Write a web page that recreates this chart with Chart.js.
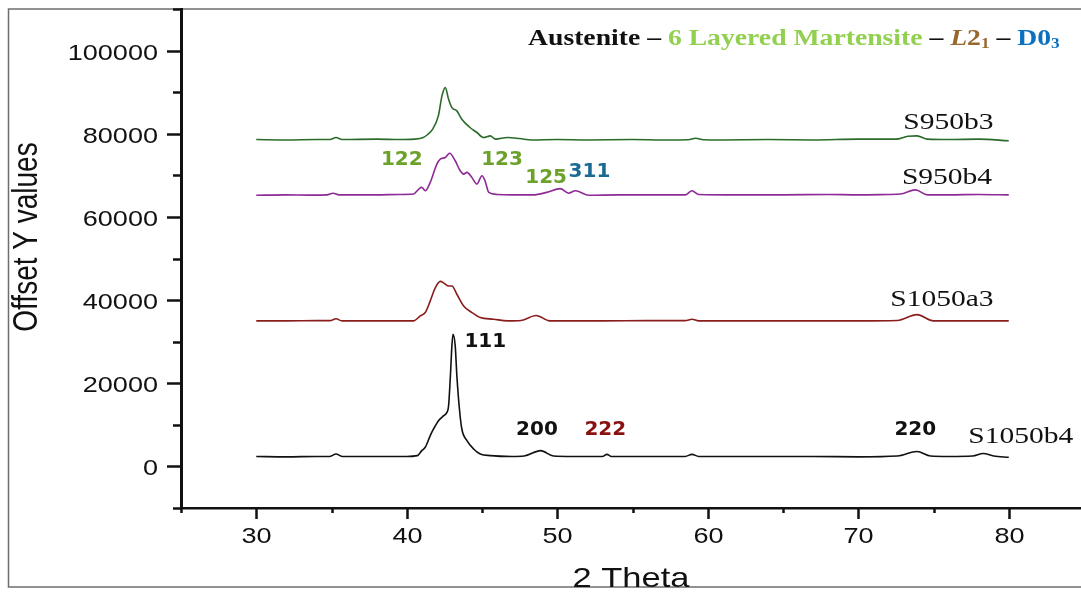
<!DOCTYPE html>
<html>
<head>
<meta charset="utf-8">
<title>XRD offset patterns</title>
<script src="https://cdn.jsdelivr.net/npm/chart.js@4/dist/chart.umd.min.js"></script>
<style>
  html, body { margin: 0; padding: 0; background: #fff; }
  #wrap { width: 1081px; height: 592px; position: relative; }
  canvas { display: block; }
</style>
</head>
<body>
<div id="wrap"><canvas id="xrd" width="1081" height="592"></canvas></div>
<script>
// 2-theta positions and offset intensities for each sample
const theta950b3 = [30, 32, 34, 34.9, 35.3, 35.7, 38, 39.5, 40.5, 41.1, 41.35, 41.7, 42.1, 42.34, 42.56, 42.78, 43.0, 43.33, 43.66, 44.2, 44.66, 45.1, 45.55, 45.9, 46.7, 47.5, 48.3, 50, 52, 55, 57, 58.7, 59.2, 59.7, 61, 64, 67, 70, 72.5, 73.3, 73.9, 74.6, 76, 78, 80];
const counts950b3 = [78600, 78500, 78600, 78600, 79100, 78600, 78700, 78600, 78700, 79100, 79700, 81000, 84300, 89100, 91100, 88300, 86300, 85500, 83500, 81500, 80300, 79100, 79500, 78700, 79100, 78850, 78500, 78600, 78500, 78600, 78500, 78550, 78900, 78550, 78500, 78600, 78500, 78700, 78700, 79400, 79500, 78700, 78600, 78700, 78300];

const theta950b4 = [30, 32, 33.5, 34.7, 35.1, 35.5, 38, 39.5, 40.45, 40.8, 41.0, 41.23, 41.56, 42.0, 42.23, 42.56, 42.85, 43.22, 43.55, 43.78, 44.0, 44.33, 44.66, 45.0, 45.2, 45.45, 46.0, 47, 48.4, 49.3, 50.2, 50.75, 51.2, 52.1, 54, 56, 58.5, 58.95, 59.4, 62, 65, 68, 70, 72, 72.8, 73.8, 74.6, 76, 78, 80];
const counts950b4 = [65200, 65300, 65250, 65300, 65700, 65300, 65300, 65400, 65500, 66700, 67100, 66300, 68300, 72700, 73900, 74300, 75300, 73500, 71100, 70300, 70700, 69500, 67900, 69900, 68700, 65900, 65400, 65300, 65300, 65900, 66800, 65700, 66300, 65200, 65300, 65300, 65300, 66300, 65400, 65300, 65300, 65400, 65300, 65400, 65500, 66500, 65300, 65300, 65400, 65300];

const theta1050a3 = [30, 32, 34, 34.9, 35.3, 35.7, 38, 40.45, 40.9, 41.23, 41.56, 41.9, 42.23, 42.5, 42.78, 43.0, 43.33, 43.78, 44.33, 44.88, 45.77, 46.7, 47.6, 48.6, 49.5, 51, 53, 56, 58.5, 58.95, 59.4, 61, 64, 67, 70, 72.6, 73.9, 75.0, 77, 80];
const counts1050a3 = [35000, 35000, 35050, 35050, 35500, 35000, 35000, 35000, 36200, 37000, 39800, 43000, 44500, 44000, 43400, 43400, 41400, 38600, 37000, 35800, 35400, 35000, 35100, 36300, 35000, 35000, 35000, 35050, 35050, 35400, 35000, 35000, 35000, 35000, 35000, 35100, 36500, 35000, 35000, 35000];

const theta1050b4 = [30, 32, 34, 34.9, 35.3, 35.7, 38, 40, 40.7, 41.0, 41.23, 41.56, 41.78, 42.11, 42.45, 42.67, 42.78, 42.9, 43.0, 43.07, 43.22, 43.33, 43.5, 43.66, 44.0, 44.44, 44.88, 45.55, 47, 47.8, 48.9, 49.75, 51, 53.0, 53.3, 53.6, 55, 57, 58.5, 58.95, 59.4, 61, 64, 67, 70, 72.6, 73.9, 74.8, 76, 77.6, 78.3, 79, 80];
const counts1050b4 = [2400, 2300, 2400, 2400, 3000, 2400, 2400, 2400, 2600, 3800, 4600, 7400, 9000, 11000, 12200, 13000, 14600, 21800, 29000, 31800, 29000, 21800, 13800, 9000, 6200, 4200, 3000, 2600, 2400, 2500, 3800, 2500, 2400, 2400, 2900, 2400, 2400, 2400, 2400, 2900, 2400, 2400, 2400, 2400, 2300, 2500, 3600, 2500, 2400, 2500, 3100, 2500, 2200];

// sample names and where they are written (left edge, baseline)
const sampleNames = ['S950b3', 'S950b4', 'S1050a3', 'S1050b4'];
const sampleLabelTheta = [72.99, 72.9, 72.13, 77.31];
const sampleLabelY = [81260, 67910, 38570, 5700];

// reflection indices (centre, baseline)
const peakNames = ['122', '123', '125', '311', '111', '200', '222', '220'];
const peakTheta = [39.67, 46.33, 49.26, 52.14, 45.22, 48.65, 53.19, 73.79];
const peakY = [72480, 72480, 68080, 69525, 28780, 7550, 7550, 7550];
const peakColors = ['#6ca22a', '#6ca22a', '#6ca22a', '#1b6a94', '#111111', '#111111', '#8b1010', '#111111'];

const lineColors = ['#2a6b2a', '#8e2a96', '#8a1c1c', '#111111'];
const STRETCH = 1.23;

const pts = (xs, ys) => xs.map((x, i) => ({ x: x, y: ys[i] }));

const text = (ctx, str, x, y, font, color, align) => {
    ctx.save();
    ctx.font = font;
    ctx.fillStyle = color;
    ctx.textAlign = align || 'left';
    ctx.textBaseline = 'alphabetic';
    ctx.translate(x, y);
    ctx.scale(STRETCH, 1);
    ctx.fillText(str, 0, 0);
    ctx.restore();
};

// draws a run of differently styled pieces one after another
const textRuns = (ctx, runs, x, y) => {
    ctx.save();
    ctx.translate(x, y);
    ctx.scale(STRETCH, 1);
    let cx = 0;
    runs.forEach(r => {
        ctx.font = r.font;
        ctx.fillStyle = r.color;
        ctx.textBaseline = 'alphabetic';
        ctx.fillText(r.t, cx, r.dy || 0);
        cx += ctx.measureText(r.t).width;
    });
    ctx.restore();
};

const framePlugin = {
    id: 'frame',
    beforeDraw(chart) {
        const ctx = chart.ctx;
        ctx.save();
        ctx.fillStyle = '#fff';
        ctx.fillRect(0, 0, chart.width, chart.height);
        ctx.strokeStyle = '#6e6e6e';
        ctx.lineWidth = 1.5;
        ctx.strokeRect(8.5, 9, chart.width + 20, 578);
        ctx.restore();
    },
    afterDraw(chart) {
        const ctx = chart.ctx;
        const xs = chart.scales.x, ys = chart.scales.y;
        const area = chart.chartArea;
        const sans = '"Liberation Sans", Arial, sans-serif';
        const serif = '"Liberation Serif", "Times New Roman", serif';

        // tick marks, major every 2nd step
        ctx.save();
        ctx.strokeStyle = '#111';
        ctx.lineWidth = 2.5;
        ys.ticks.forEach(t => {
            if (t.value % 10000 !== 0) return;
            const py = Math.round(ys.getPixelForValue(t.value)) + 0.5;
            const major = t.value % 20000 === 0;
            ctx.beginPath();
            ctx.moveTo(area.left - (major ? 14 : 8), py);
            ctx.lineTo(area.left, py);
            ctx.stroke();
            if (major) text(ctx, String(t.value), 158, py + 8, '22px ' + sans, '#111', 'right');
        });
        xs.ticks.forEach(t => {
            if (t.value % 5 !== 0) return;
            const px = Math.round(xs.getPixelForValue(t.value)) + 0.5;
            const major = t.value % 10 === 0;
            ctx.beginPath();
            ctx.moveTo(px, area.bottom);
            ctx.lineTo(px, area.bottom + (major ? 11 : 5));
            ctx.stroke();
            if (major && t.value > 25) text(ctx, String(t.value), px, 543, '22px ' + sans, '#111', 'center');
        });
        ctx.restore();

        // axis titles
        text(ctx, '2 Theta', 631, 587, '28px ' + sans, '#111', 'center');
        ctx.save();
        ctx.translate(37, 237);
        ctx.rotate(-Math.PI / 2);
        ctx.scale(1, STRETCH);
        ctx.font = '28px ' + sans;
        ctx.fillStyle = '#111';
        ctx.textAlign = 'center';
        ctx.fillText('Offset Y values', 0, 0);
        ctx.restore();

        // sample names
        sampleNames.forEach((n, i) => {
            text(ctx, n, xs.getPixelForValue(sampleLabelTheta[i]), ys.getPixelForValue(sampleLabelY[i]),
                '24px ' + serif, '#111', 'left');
        });

        // reflection indices
        peakNames.forEach((n, i) => {
            ctx.save();
            ctx.font = 'bold 20px "DejaVu Sans", Verdana, sans-serif';
            ctx.fillStyle = peakColors[i];
            ctx.textAlign = 'center';
            ctx.fillText(n, xs.getPixelForValue(peakTheta[i]), ys.getPixelForValue(peakY[i]));
            ctx.restore();
        });

        // phase key
        const b = 'bold 22.5px ' + serif, sub = 'bold 14px ' + serif;
        textRuns(ctx, [
            { t: 'Austenite', font: b, color: '#111' },
            { t: ' \u2013 ', font: b, color: '#111' },
            { t: '6 Layered Martensite', font: b, color: '#92d050' },
            { t: ' \u2013 ', font: b, color: '#111' },
            { t: 'L', font: 'italic ' + b, color: '#98672f' },
            { t: '2', font: b, color: '#98672f' },
            { t: '1', font: sub, color: '#98672f', dy: 3 },
            { t: ' \u2013 ', font: b, color: '#111' },
            { t: 'D0', font: b, color: '#0b70c0' },
            { t: '3', font: sub, color: '#0b70c0', dy: 3 }
        ], 528, 45);
    }
};

const thetaSets = [theta950b3, theta950b4, theta1050a3, theta1050b4];
const countSets = [counts950b3, counts950b4, counts1050a3, counts1050b4];

new Chart(document.getElementById('xrd'), {
    type: 'line',
    data: {
        datasets: sampleNames.map((n, i) => ({
            label: n,
            data: pts(thetaSets[i], countSets[i]),
            borderColor: lineColors[i],
            borderWidth: 1.6,
            pointRadius: 0,
            cubicInterpolationMode: 'monotone',
            fill: false
        }))
    },
    options: {
        responsive: false,
        animation: false,
        devicePixelRatio: 1,
        layout: { padding: { top: 9, left: 0, right: 0, bottom: 0 } },
        plugins: { legend: { display: false }, tooltip: { enabled: false } },
        scales: {
            x: {
                type: 'linear',
                min: 25,
                max: 84.8,
                ticks: { display: false, stepSize: 5 },
                grid: { display: false },
                border: { display: true, color: '#111', width: 2.5 },
                afterFit: s => { s.height = 84; }
            },
            y: {
                min: -10000,
                max: 110000,
                ticks: { display: false, stepSize: 10000 },
                grid: { display: false },
                border: { display: true, color: '#111', width: 3 },
                afterFit: s => { s.width = 181; }
            }
        }
    },
    plugins: [framePlugin]
});
</script>
</body>
</html>
